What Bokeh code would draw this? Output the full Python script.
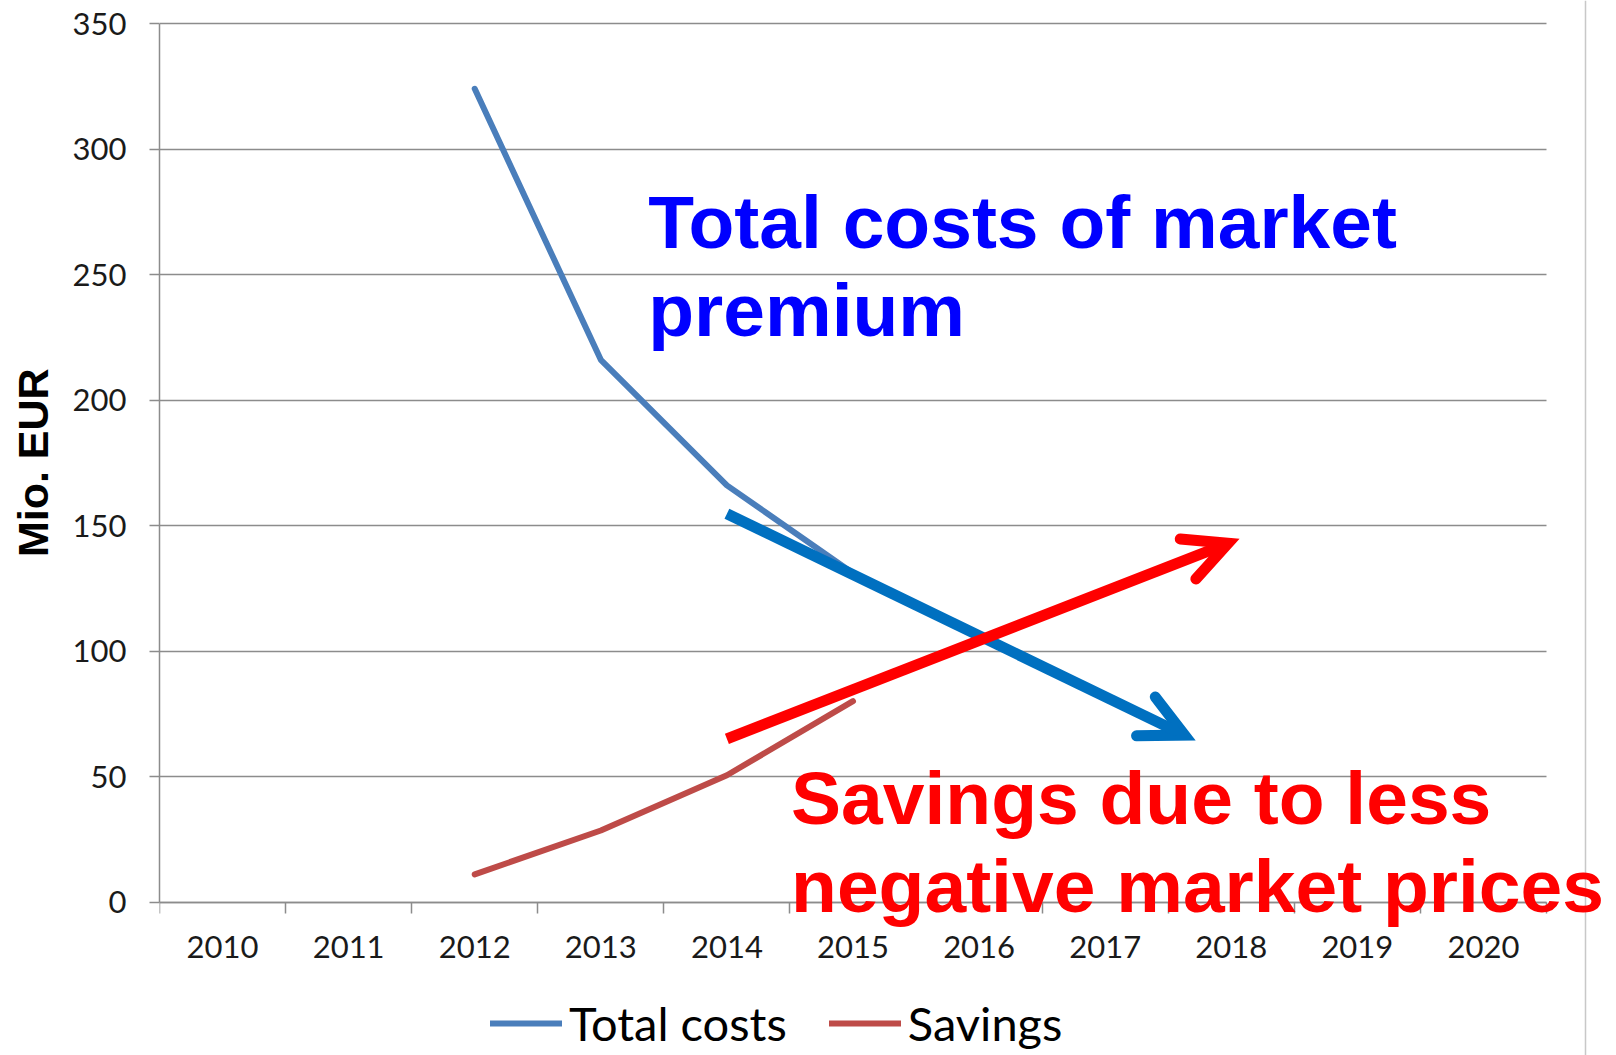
from bokeh.plotting import figure
from bokeh.models import (FixedTicker, Legend, LegendItem, Label, Arrow, OpenHead, Range1d, Span, Grid)
from bokeh.embed import file_html
from bokeh.resources import INLINE

# ---- data ----
years = [2012, 2013, 2014, 2015]
total_costs = [324, 216, 166, 131]
savings = [11, 28.5, 50.5, 80]
year_ticks = [2010, 2011, 2012, 2013, 2014, 2015, 2016, 2017, 2018, 2019, 2020]
year_bounds = [y - 0.5 for y in year_ticks] + [year_ticks[-1] + 0.5]
y_ticks = [0, 50, 100, 150, 200, 250, 300, 350]

# annotation arrows (data coordinates)
blue_arrow = dict(x_start=2014.0, y_start=154.7, x_end=2017.63, y_end=66.5)
red_arrow = dict(x_start=2014.0, y_start=65.0, x_end=2017.975, y_end=142.9)

# ---- layout geometry (canvas pixels) ----
W, H = 1616, 1055
PX_LEFT, PX_RIGHT, PX_TOP350, PX_ZERO = 159, 1546, 23, 901.5
px_per_year = (PX_RIGHT - PX_LEFT) / (year_bounds[-1] - year_bounds[0])
px_per_unit = (PX_ZERO - PX_TOP350) / (y_ticks[-1] - y_ticks[0])
x_end = year_bounds[0] + (W - PX_LEFT) / px_per_year
y_start = -(H - PX_ZERO) / px_per_unit
y_end = y_ticks[-1] + PX_TOP350 / px_per_unit

GRID = "#8c8c8c"

p = figure(width=W, height=H, output_backend="svg", toolbar_location=None,
           x_range=Range1d(year_bounds[0], x_end),
           y_range=Range1d(y_start, y_end),
           min_border_left=PX_LEFT, min_border_right=0, min_border_top=0, min_border_bottom=0)
p.outline_line_color = None
p.background_fill_color = "white"
p.border_fill_color = "white"

# x axis (drawn at y = 0)
xa = p.xaxis[0]
xa.fixed_location = 0
xa.bounds = (year_bounds[0], year_bounds[-1])
xa.ticker = FixedTicker(ticks=year_ticks, minor_ticks=year_bounds)
xa.major_label_overrides = {y: str(y) for y in year_ticks}
xa.major_tick_out = 0
xa.major_tick_in = 0
xa.minor_tick_out = 11
xa.minor_tick_in = 0
xa.minor_tick_line_color = GRID
xa.minor_tick_line_width = 1.5
xa.axis_line_color = GRID
xa.axis_line_width = 1.5
xa.major_label_text_font = "Lato"
xa.major_label_text_font_size = "31px"
xa.major_label_text_color = "#1a1a1a"
xa.major_label_standoff = 23

# y axis
ya = p.yaxis[0]
ya.bounds = (y_ticks[0], y_ticks[-1])
ya.ticker = FixedTicker(ticks=y_ticks, minor_ticks=[])
ya.major_tick_out = 10
ya.major_tick_in = 0
ya.major_tick_line_color = GRID
ya.major_tick_line_width = 1.5
ya.minor_tick_line_color = None
ya.axis_line_color = GRID
ya.axis_line_width = 1.5
ya.major_label_text_font = "Lato"
ya.major_label_text_font_size = "31px"
ya.major_label_text_color = "#1a1a1a"
ya.major_label_standoff = 23

# y axis title, centred on the 0-350 axis, in the left panel
p.add_layout(Label(x=year_bounds[0] + (32 - PX_LEFT) / px_per_year,
                   y=(y_ticks[0] + y_ticks[-1]) / 2, text="Mio. EUR",
                   angle=90, angle_units="deg", text_align="center", text_baseline="middle",
                   text_font="Liberation Sans", text_font_style="bold",
                   text_font_size="43px", text_color="black"), "left")

p.xgrid.visible = False
if "cross_bounds" in Grid.properties():
    p.ygrid.ticker = FixedTicker(ticks=y_ticks, minor_ticks=[])
    p.ygrid.cross_bounds = (year_bounds[0], year_bounds[-1])
    p.ygrid.grid_line_color = GRID
    p.ygrid.grid_line_width = 1.5
else:
    p.ygrid.visible = False
    p.segment(x0=[year_bounds[0]] * len(y_ticks), y0=y_ticks,
              x1=[year_bounds[-1]] * len(y_ticks), y1=y_ticks,
              line_color=GRID, line_width=1.5)

# series
r1 = p.line(years, total_costs, line_width=6, line_color="#4A7EBB", line_cap="round", line_join="round")
r2 = p.line(years, savings, line_width=6, line_color="#BE4B48", line_cap="round", line_join="round")

legend = Legend(items=[LegendItem(label="Total costs", renderers=[r1]),
                       LegendItem(label="Savings", renderers=[r2])],
                orientation="horizontal", location=(490 - PX_LEFT, 4),
                label_text_font="Lato", label_text_font_size="47px", label_text_color="black",
                glyph_width=72, glyph_height=20, label_standoff=7, spacing=42,
                padding=0, margin=0, border_line_color=None, background_fill_alpha=0)
p.add_layout(legend)

# arrows
p.add_layout(Arrow(**blue_arrow, line_color="#0070C0", line_width=11, line_cap="butt",
                   end=OpenHead(size=43, line_color="#0070C0", line_width=11,
                                line_cap="round", line_join="miter")))
p.add_layout(Arrow(**red_arrow, line_color="#FF0000", line_width=11, line_cap="butt",
                   end=OpenHead(size=43, line_color="#FF0000", line_width=11,
                                line_cap="round", line_join="miter")))

# slide border line on the right
p.add_layout(Span(location=year_bounds[0] + (1585 - PX_LEFT) / px_per_year, dimension="height",
                  line_color="#c8c8c8", line_width=1.5))

# text annotations
def big_label(x, y, text, color):
    return Label(x=x, y=y, text=text, text_font="Liberation Sans", text_font_style="bold",
                 text_font_size="75px", text_color=color, text_align="left",
                 text_baseline="alphabetic")

p.add_layout(big_label(2013.376, 271.0, "Total costs of market", "#0000FF"))
p.add_layout(big_label(2013.376, 235.8, "premium", "#0000FF"))
p.add_layout(big_label(2014.509, 41.3, "Savings due to less", "#FF0000"))
p.add_layout(big_label(2014.509, 6.4, "negative market prices", "#FF0000"))

open("out.html", "w").write(file_html(p, INLINE))
